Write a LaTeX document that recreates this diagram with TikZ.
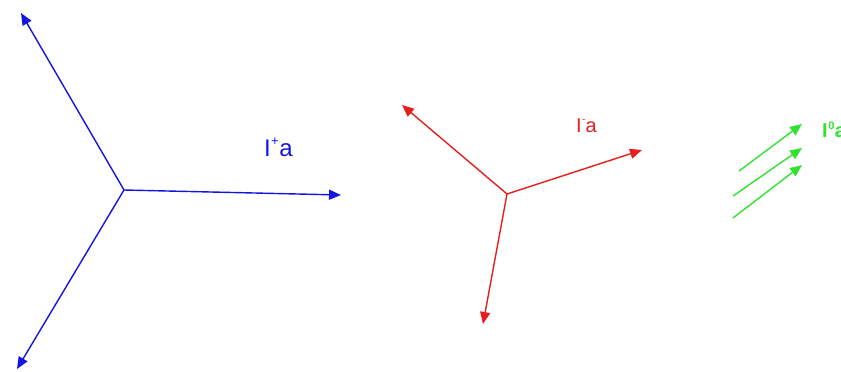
\documentclass[tikz,border=0pt]{standalone}
\usepackage{fontspec}
\setmainfont{Liberation Sans}
\usetikzlibrary{arrows.meta}
\definecolor{vblue}{RGB}{20,20,225}
\definecolor{vred}{RGB}{232,30,30}
\definecolor{vgreen}{RGB}{50,225,50}
\tikzset{
  phasor/.style={line width=1.4pt,-{Triangle[length=12pt,width=10pt]}},
  lbl/.style={inner sep=0pt,anchor=west}
}
\begin{document}
\begin{tikzpicture}[x=1pt,y=-1pt]
\useasboundingbox (0,0) rectangle (841,372);
\clip (0,0) rectangle (841,372);
% positive sequence
\coordinate (bc) at (124,190);
\coordinate (b1) at (21,13);
\coordinate (b2) at (17,369);
\coordinate (b3) at (341,195);
\draw[phasor,vblue] (bc) -- (b1);
\draw[phasor,vblue] (bc) -- (b2);
\draw[phasor,vblue] (bc) -- (b3);
\node[lbl,text=vblue,font=\fontsize{24}{26}\selectfont] (lp) at (264,147) {I\kern0.3pt\raisebox{0.45em}{\fontsize{13}{13}\selectfont+}\kern0.5pt a};
% negative sequence
\coordinate (rc) at (507,194);
\coordinate (r1) at (402,105);
\coordinate (r2) at (642,150);
\coordinate (r3) at (483,324);
\draw[phasor,vred] (rc) -- (r1);
\draw[phasor,vred] (rc) -- (r2);
\draw[phasor,vred] (rc) -- (r3);
\node[lbl,text=vred,font=\fontsize{20}{22}\selectfont] (ln) at (576,126) {I\kern0.3pt\raisebox{0.5em}{\fontsize{10}{10}\selectfont -}\kern0.3pt a};
% zero sequence
\coordinate (g1s) at (739,171);
\coordinate (g1e) at (802,124);
\coordinate (g2s) at (733,196);
\coordinate (g2e) at (802,148);
\coordinate (g3s) at (733,218);
\coordinate (g3e) at (802,165);
\draw[phasor,vgreen] (g1s) -- (g1e);
\draw[phasor,vgreen] (g2s) -- (g2e);
\draw[phasor,vgreen] (g3s) -- (g3e);
\node[lbl,text=vgreen,font=\fontsize{20}{22}\selectfont\bfseries] (lz) at (822,130) {I\kern0.5pt\raisebox{0.4em}{\fontsize{11}{11}\selectfont\bfseries 0}\kern0.5pt a};
\end{tikzpicture}
\end{document}
